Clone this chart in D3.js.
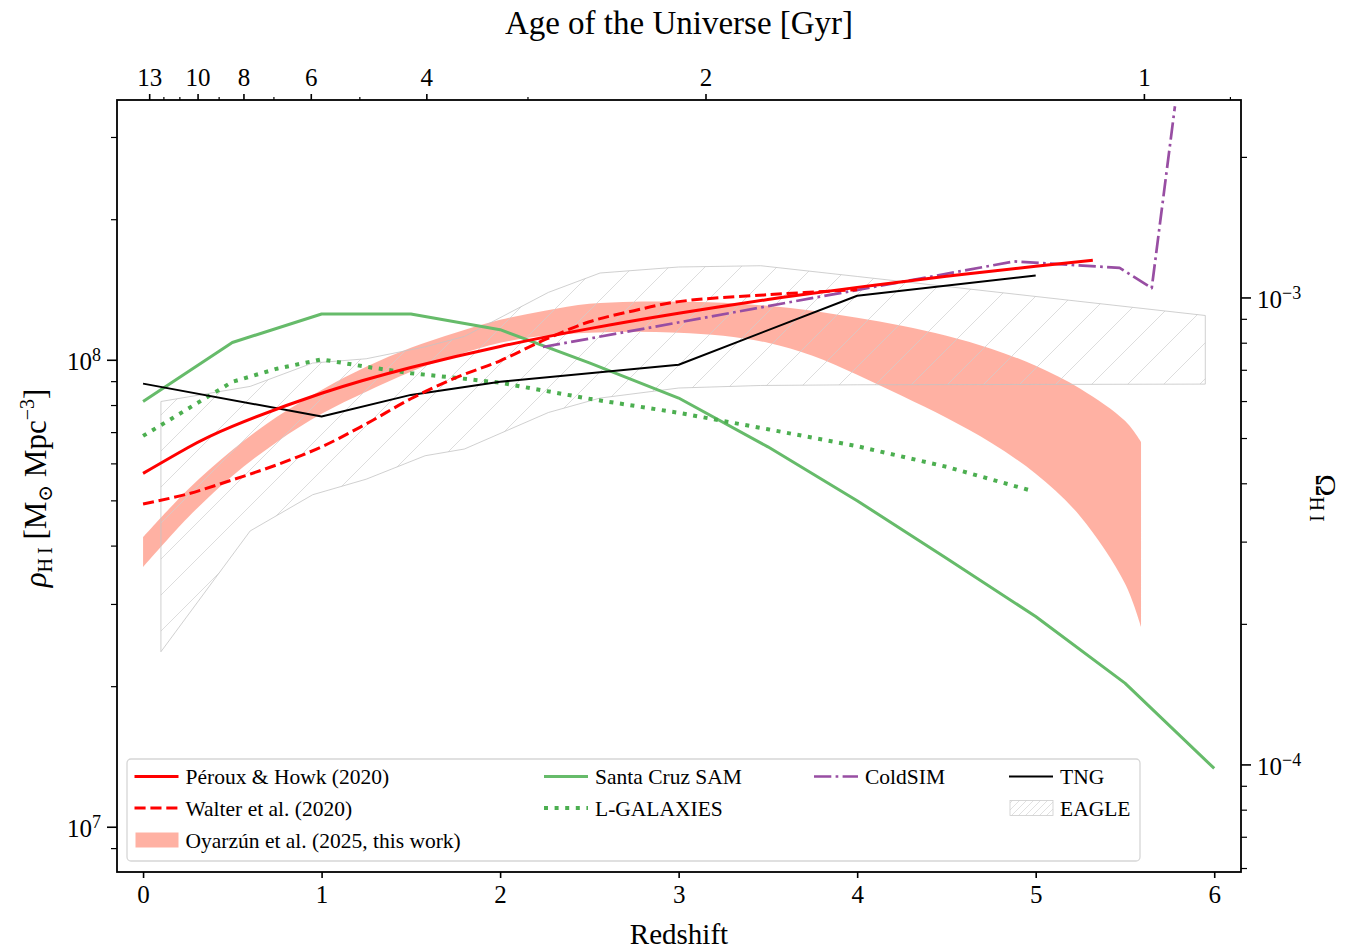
<!doctype html>
<html>
<head>
<meta charset="utf-8">
<title>HI density vs redshift</title>
<script src="https://cdn.jsdelivr.net/npm/d3@7"></script>
<style>
  body { margin: 0; background: #fff; }
  svg text { font-family: "Liberation Serif", "DejaVu Serif", serif; fill: #000; }
</style>
</head>
<body>
<div id="chart"></div>
<script>
// ---- data ----
var perouxZ   = [0, 0.25, 0.5, 1, 1.5, 2, 2.5, 3, 3.5, 4, 4.5, 5, 5.32];
var perouxRho = [5.71e7, 6.48e7, 7.20e7, 8.48e7, 9.63e7, 1.068e8, 1.166e8, 1.258e8, 1.346e8, 1.429e8, 1.509e8, 1.586e8, 1.633e8];

var walterZ   = [0, 0.25, 0.5, 0.75, 1, 1.25, 1.5, 1.75, 2, 2.25, 2.5, 2.75, 3, 3.5, 4];
var walterRho = [4.91e7, 5.16e7, 5.53e7, 5.96e7, 6.51e7, 7.29e7, 8.25e7, 9.15e7, 9.95e7, 1.104e8, 1.206e8, 1.274e8, 1.332e8, 1.378e8, 1.413e8];

var bandZ    = [0, 0.25, 0.5, 0.75, 1, 1.25, 1.5, 1.75, 2, 2.25, 2.5, 2.75, 3, 3.25, 3.5, 3.75, 4, 4.25, 4.5, 4.75, 5, 5.25, 5.5, 5.59];
var bandLow  = [3.60e7, 4.59e7, 5.64e7, 6.67e7, 7.66e7, 8.54e7, 9.43e7, 1.020e8, 1.087e8, 1.126e8, 1.143e8, 1.148e8, 1.143e8, 1.126e8, 1.087e8, 1.020e8, 9.29e7, 8.37e7, 7.51e7, 6.64e7, 5.70e7, 4.62e7, 3.32e7, 2.68e7];
var bandHigh = [4.17e7, 5.27e7, 6.41e7, 7.55e7, 8.62e7, 9.66e7, 1.061e8, 1.143e8, 1.218e8, 1.274e8, 1.318e8, 1.332e8, 1.332e8, 1.325e8, 1.305e8, 1.274e8, 1.230e8, 1.183e8, 1.126e8, 1.056e8, 9.71e7, 8.67e7, 7.40e7, 6.67e7];

var scsamZ   = [0, 0.5, 1, 1.5, 2, 2.5, 3, 3.5, 4, 4.5, 5, 5.5, 6];
var scsamRho = [8.14e7, 1.089e8, 1.253e8, 1.253e8, 1.160e8, 9.85e7, 8.28e7, 6.51e7, 4.99e7, 3.76e7, 2.82e7, 2.03e7, 1.333e7];

var lgalZ   = [0, 0.25, 0.5, 0.75, 1, 1.25, 1.5, 1.75, 2, 2.5, 3, 3.5, 4, 4.5, 4.97];
var lgalRho = [6.87e7, 7.85e7, 8.97e7, 9.57e7, 1.002e8, 9.66e7, 9.36e7, 9.15e7, 8.93e7, 8.25e7, 7.70e7, 7.10e7, 6.53e7, 5.90e7, 5.25e7];

var coldsimZ   = [2.24, 4.88, 5.47, 5.65, 5.78];
var coldsimRho = [1.065e8, 1.624e8, 1.573e8, 1.424e8, 3.49e8];

var tngZ   = [0, 1, 1.5, 2, 3, 4, 5];
var tngRho = [8.89e7, 7.56e7, 8.41e7, 8.97e7, 9.76e7, 1.371e8, 1.516e8];

var eagleZ    = [0.1, 0.6, 0.95, 1.25, 1.58, 1.8, 2.27, 2.56, 3.0, 3.46, 4.0, 5.95];
var eagleHigh = [8.14e7, 8.77e7, 9.84e7, 1.005e8, 1.066e8, 1.122e8, 1.394e8, 1.534e8, 1.580e8, 1.590e8, 1.508e8, 1.244e8];
var eagleLow  = [2.37e7, 4.30e7, 5.14e7, 5.55e7, 6.23e7, 6.44e7, 7.71e7, 8.28e7, 8.70e7, 8.81e7, 8.84e7, 8.87e7];

var zTicks = [0, 1, 2, 3, 4, 5, 6];
var ageMajor = [13, 10, 8, 6, 4, 2, 1];
var ageMinor = [12, 11, 9, 7, 5, 3, 0.9];
var rhoMajor = [1e7, 1e8];
var rhoMinor = [9e6, 2e7, 3e7, 4e7, 5e7, 6e7, 7e7, 8e7, 9e7, 2e8, 3e8];
var omegaMajor = [1e-4, 1e-3];
var omegaMinor = [6e-5, 7e-5, 8e-5, 9e-5, 2e-4, 3e-4, 4e-4, 5e-4, 6e-4, 7e-4, 8e-4, 9e-4, 2e-3];

// cosmology used for the secondary axes
var H0 = 70, Om = 0.3, OL = 0.7;
var rhoCrit = 2.775e11 * Math.pow(H0 / 100, 2);

function zOfAge(t) {
  var tH = 977.8 / H0;
  var k = 1.5 * Math.sqrt(OL) / tH;
  var a15 = Math.sinh(k * t) / Math.sqrt(OL / Om);
  return Math.pow(a15, -2 / 3) - 1;
}

function zip(zs, vs) {
  return zs.map(function(z, i) { return { z: z, v: vs[i] }; });
}

// ---- layout ----
var width = 1361, height = 950;
var plotL = 117, plotR = 1241, plotT = 100, plotB = 872;

var svg = d3.select("#chart").append("svg")
  .attr("width", width).attr("height", height);

var x = d3.scaleLinear().domain([-0.146, 6.15]).range([plotL, plotR]);
var y = d3.scaleLog().domain([8e6, 3.6e8]).range([plotB, plotT]);
var yOm = d3.scaleLog().domain([8e6 / rhoCrit, 3.6e8 / rhoCrit]).range([plotB, plotT]);

var defs = svg.append("defs");
defs.append("clipPath").attr("id", "plotclip")
  .append("rect").attr("x", plotL).attr("y", plotT)
  .attr("width", plotR - plotL).attr("height", plotB - plotT);

function addHatch(id, s, col) {
  defs.append("pattern").attr("id", id)
    .attr("patternUnits", "userSpaceOnUse")
    .attr("width", s).attr("height", s)
    .append("path")
    .attr("d", "M-1,1 l2,-2 M0," + s + " l" + s + ",-" + s + " M" + (s - 1) + "," + (s + 1) + " l2,-2")
    .attr("stroke", col).attr("stroke-width", 0.7);
}
addHatch("hatch", 36, "#cfcfcf");
addHatch("hatchLegend", 7, "#d4d4d4");

var plot = svg.append("g").attr("clip-path", "url(#plotclip)");

// Oyarzun band
plot.append("path")
  .datum(bandZ.map(function(z, i) { return { z: z, lo: bandLow[i], hi: bandHigh[i] }; }))
  .attr("d", d3.area().curve(d3.curveCatmullRom.alpha(0.5))
    .x(function(d) { return x(d.z); })
    .y0(function(d) { return y(d.lo); })
    .y1(function(d) { return y(d.hi); }))
  .attr("fill", "#ff6347").attr("fill-opacity", 0.5);

// EAGLE hatched region
var eagleData = eagleZ.map(function(z, i) { return { z: z, lo: eagleLow[i], hi: eagleHigh[i] }; });
plot.append("path")
  .datum(eagleData)
  .attr("d", d3.area()
    .x(function(d) { return x(d.z); })
    .y0(function(d) { return y(d.lo); })
    .y1(function(d) { return y(d.hi); }))
  .attr("fill", "url(#hatch)")
  .attr("stroke", "#c4c4c4").attr("stroke-width", 0.8);

function drawLine(zs, vs, color, w, dash, curve) {
  plot.append("path")
    .datum(zip(zs, vs))
    .attr("d", d3.line().curve(curve || d3.curveLinear)
      .x(function(d) { return x(d.z); })
      .y(function(d) { return y(d.v); }))
    .attr("fill", "none")
    .attr("stroke", color)
    .attr("stroke-width", w)
    .attr("stroke-dasharray", dash)
    .attr("stroke-linejoin", "round");
}

drawLine(scsamZ, scsamRho, "#66bb6a", 3, null);
drawLine(lgalZ, lgalRho, "#4caf50", 4, "4,6.6");
drawLine(coldsimZ, coldsimRho, "#984ea3", 2.7, "17.3,4.3,2.7,4.3");
drawLine(tngZ, tngRho, "#000000", 2, null);
drawLine(walterZ, walterRho, "#ff0000", 3, "11.1,4.8", d3.curveCatmullRom.alpha(0.5));
drawLine(perouxZ, perouxRho, "#ff0000", 3, null, d3.curveNatural);

// ---- axes ----
function styleAxis(g, w) {
  g.select(".domain").remove();
  g.selectAll(".tick line").attr("stroke", "#000").attr("stroke-width", w);
  g.selectAll("text").attr("font-size", 25);
}

function powerLabel(sel) {
  sel.each(function(d) {
    var e = Math.round(Math.log10(d));
    var t = d3.select(this).text(null);
    t.append("tspan").text("10");
    t.append("tspan").attr("dy", "-0.5em").attr("font-size", 18)
      .text(e < 0 ? "\u2212" + (-e) : e);
  });
}

// bottom: redshift
var gx = svg.append("g").attr("transform", "translate(0," + plotB + ")")
  .call(d3.axisBottom(x).tickValues(zTicks).tickSize(6).tickPadding(7).tickFormat(d3.format("d")));
styleAxis(gx, 1.6);

// top: age of the universe
var gtMinor = svg.append("g").attr("transform", "translate(0," + plotT + ")")
  .call(d3.axisTop(x).tickValues(ageMinor.map(zOfAge)).tickSize(3).tickFormat(""));
styleAxis(gtMinor, 1.2);
var gt = svg.append("g").attr("transform", "translate(0," + plotT + ")")
  .call(d3.axisTop(x).tickValues(ageMajor.map(zOfAge)).tickSize(6).tickPadding(8)
    .tickFormat(function(d, i) { return ageMajor[i]; }));
styleAxis(gt, 1.6);

// left: rho
var glMinor = svg.append("g").attr("transform", "translate(" + plotL + ",0)")
  .call(d3.axisLeft(y).tickValues(rhoMinor).tickSize(6).tickFormat(""));
styleAxis(glMinor, 1.2);
var gl = svg.append("g").attr("transform", "translate(" + plotL + ",0)")
  .call(d3.axisLeft(y).tickValues(rhoMajor).tickSize(10).tickPadding(6));
styleAxis(gl, 1.6);
gl.selectAll("text").attr("dy", "0.4em").call(powerLabel);

// right: Omega
var grMinor = svg.append("g").attr("transform", "translate(" + plotR + ",0)")
  .call(d3.axisRight(yOm).tickValues(omegaMinor).tickSize(6).tickFormat(""));
styleAxis(grMinor, 1.2);
var gr = svg.append("g").attr("transform", "translate(" + plotR + ",0)")
  .call(d3.axisRight(yOm).tickValues(omegaMajor).tickSize(10).tickPadding(6));
styleAxis(gr, 1.6);
gr.selectAll("text").attr("dy", "0.4em").call(powerLabel);

// frame
svg.append("rect")
  .attr("x", plotL).attr("y", plotT)
  .attr("width", plotR - plotL).attr("height", plotB - plotT)
  .attr("fill", "none").attr("stroke", "#000").attr("stroke-width", 1.8);

// ---- labels ----
svg.append("text").attr("x", (plotL + plotR) / 2).attr("y", 34)
  .attr("text-anchor", "middle").attr("font-size", 33)
  .text("Age of the Universe [Gyr]");

svg.append("text").attr("x", (plotL + plotR) / 2).attr("y", 944)
  .attr("text-anchor", "middle").attr("font-size", 29)
  .text("Redshift");

var yl = svg.append("text").attr("transform", "translate(46,488) rotate(-90)")
  .attr("text-anchor", "middle").attr("font-size", 31);
yl.append("tspan").attr("font-style", "italic").text("\u03c1");
yl.append("tspan").attr("font-size", 20).attr("dy", 6).text("H\u2009I");
yl.append("tspan").attr("dy", -6).text(" [M");
yl.append("tspan").attr("font-size", 20).attr("dy", 6).text("\u2299");
yl.append("tspan").attr("dy", -6).text(" Mpc");
yl.append("tspan").attr("font-size", 20).attr("dy", -12).text("\u22123");
yl.append("tspan").attr("dy", 12).text("]");

var yr = svg.append("text").attr("transform", "translate(1316,498) rotate(90)")
  .attr("text-anchor", "middle").attr("font-size", 30);
yr.append("tspan").text("\u03a9");
yr.append("tspan").attr("font-size", 20).attr("dy", 6).text("H\u2009I");

// ---- legend ----
var legendColX = [134.5, 544, 814, 1009];
var legendRowY = [776.5, 808, 840];
var legendItems = [
  { label: "P\u00e9roux & Howk (2020)", col: 0, row: 0, kind: "line", color: "#ff0000", w: 3, dash: null },
  { label: "Walter et al. (2020)", col: 0, row: 1, kind: "line", color: "#ff0000", w: 3, dash: "11.1,4.8" },
  { label: "Oyarz\u00fan et al. (2025, this work)", col: 0, row: 2, kind: "band" },
  { label: "Santa Cruz SAM", col: 1, row: 0, kind: "line", color: "#66bb6a", w: 3, dash: null },
  { label: "L-GALAXIES", col: 1, row: 1, kind: "line", color: "#4caf50", w: 4, dash: "4,6.6" },
  { label: "ColdSIM", col: 2, row: 0, kind: "line", color: "#984ea3", w: 2.7, dash: "17.3,4.3,2.7,4.3" },
  { label: "TNG", col: 3, row: 0, kind: "line", color: "#000000", w: 2, dash: null },
  { label: "EAGLE", col: 3, row: 1, kind: "hatch" }
];

var legend = svg.append("g");
legend.append("rect")
  .attr("x", 127).attr("y", 759).attr("width", 1013).attr("height", 102)
  .attr("rx", 4).attr("fill", "#fff").attr("fill-opacity", 0.8)
  .attr("stroke", "#d6d6d6").attr("stroke-width", 1.3);

legendItems.forEach(function(it) {
  var lx = legendColX[it.col], ly = legendRowY[it.row];
  if (it.kind === "line") {
    legend.append("line")
      .attr("x1", lx).attr("x2", lx + 44).attr("y1", ly).attr("y2", ly)
      .attr("stroke", it.color).attr("stroke-width", it.w)
      .attr("stroke-dasharray", it.dash);
  } else if (it.kind === "band") {
    legend.append("rect").attr("x", lx + 1).attr("y", ly - 7.5)
      .attr("width", 43).attr("height", 15)
      .attr("fill", "#ff6347").attr("fill-opacity", 0.5);
  } else {
    legend.append("rect").attr("x", lx + 1).attr("y", ly - 7.5)
      .attr("width", 43).attr("height", 15)
      .attr("fill", "url(#hatchLegend)")
      .attr("stroke", "#cccccc").attr("stroke-width", 0.8);
  }
  legend.append("text").attr("x", lx + 51).attr("y", ly).attr("dy", "0.35em")
    .attr("font-size", 21.5).text(it.label);
});
</script>
</body>
</html>
